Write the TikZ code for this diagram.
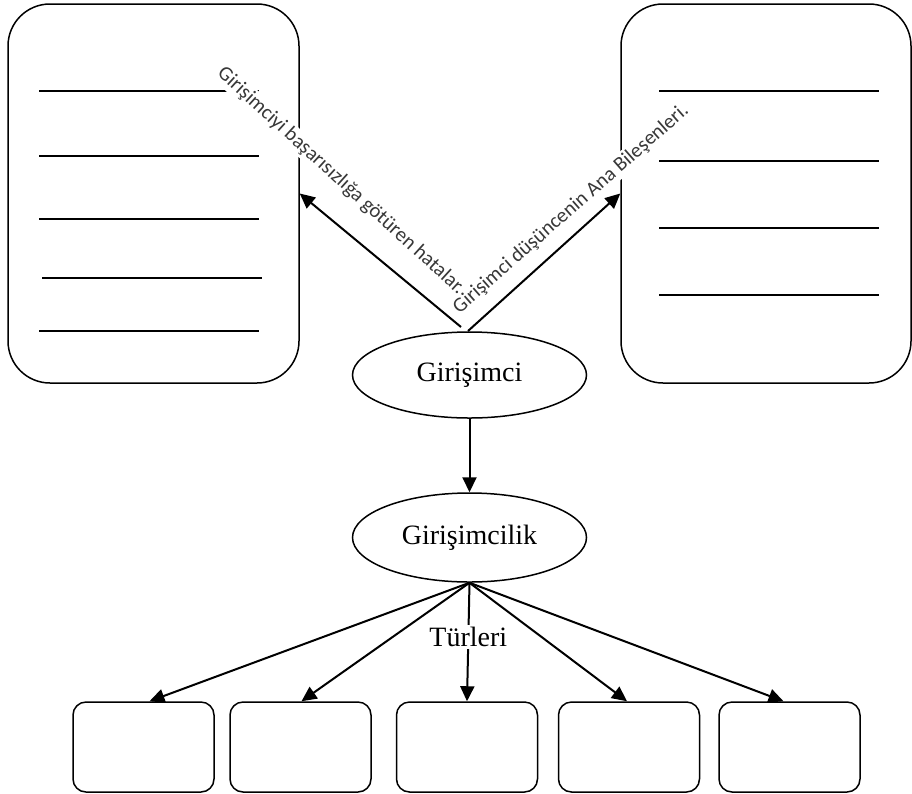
\documentclass[tikz,border=0pt]{standalone}
\usepackage{fontspec}
\setmainfont{Liberation Serif}
\newfontfamily\calibri{Carlito}
\usetikzlibrary{arrows.meta,shapes.geometric}
\begin{document}
\begin{tikzpicture}[x=1pt,y=-1pt,
  bigbox/.style={draw, line width=1.5pt, rounded corners=42pt, minimum width=291pt, minimum height=379pt, inner sep=0pt},
  smallbox/.style={draw, line width=1.5pt, rounded corners=13pt, minimum width=141pt, minimum height=90pt, inner sep=0pt},
  oval/.style={draw, ellipse, line width=1.5pt, minimum width=234pt, inner sep=0pt, font=\fontsize{28}{32}\selectfont},
  rule/.style={line width=2.2pt},
  arr/.style={line width=2pt, -{Triangle[length=15pt,width=14pt]}},
  lbl/.style={font=\calibri\fontsize{20.5}{24}\selectfont, text=black!78, fill=white, inner sep=2pt},
]
\useasboundingbox (0,0) rectangle (912,793);
% big boxes
\node[bigbox] (L) at (153.5,193.5) {};
\node[bigbox, minimum width=290pt] (R) at (766,193.5) {};
% lines in left box
\draw[rule] (39,91) -- (259,91);
\draw[rule] (39,156) -- (259,156);
\draw[rule] (39,219) -- (259,219);
\draw[rule] (42,278) -- (262,278);
\draw[rule] (39,331) -- (259,331);
% lines in right box
\draw[rule] (659,91) -- (879,91);
\draw[rule] (659,161) -- (879,161);
\draw[rule] (659,228) -- (879,228);
\draw[rule] (659,295) -- (879,295);
% ellipses
\node[oval, minimum height=86pt] (g) at (469.5,375) {Girişimci};
\node[oval, minimum height=89pt] (gc) at (469.5,537.5) {Girişimcilik};
% bottom boxes
\node[smallbox] (b1) at (143.5,747) {};
\node[smallbox] (b2) at (300.5,747) {};
\node[smallbox] (b3) at (467,747) {};
\node[smallbox] (b4) at (629,747) {};
\node[smallbox] (b5) at (789.5,747) {};
% arrows
\coordinate (apL) at (461,327);
\coordinate (apR) at (468,331);
\draw[arr] (apL) -- (L.east);
\draw[arr] (apR) -- (R.west);
\draw[arr] (g.south) -- (gc.north);
\draw[arr] (gc.south) -- ([xshift=6pt]b1.north);
\draw[arr] (gc.south) -- ([xshift=1pt]b2.north);
\draw[arr] (gc.south) -- node[pos=0.46, fill=white, inner sep=2pt, font=\fontsize{28}{32}\selectfont] (tl) {Türleri} (b3.north);
\draw[arr] (gc.south) -- ([xshift=-2pt]b4.north);
\draw[arr] (gc.south) -- ([xshift=-6pt]b5.north);
% rotated labels
\node[lbl, rotate=-42.3] (t1) at (341,181) {Girişimciyi başarısızlığa götüren hatalar.};
\node[lbl, rotate=41.3] (t2) at (571,209) {Girişimci düşüncenin Ana Bileşenleri.};
\end{tikzpicture}
\end{document}
